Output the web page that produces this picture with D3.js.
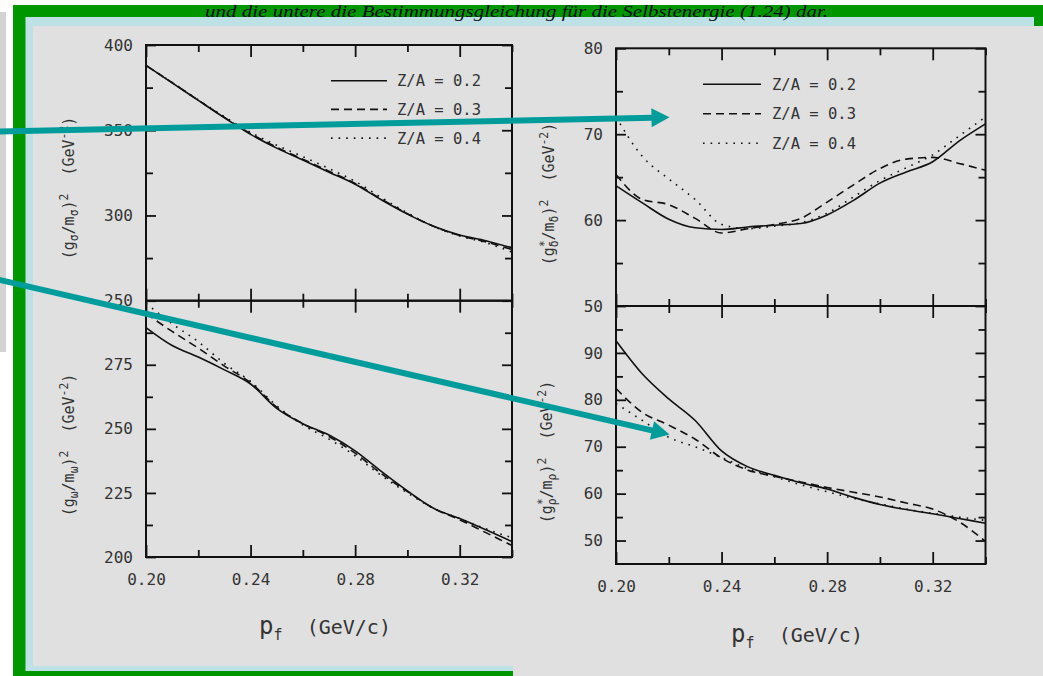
<!DOCTYPE html>
<html>
<head>
<meta charset="utf-8">
<script src="https://cdn.jsdelivr.net/npm/d3@7"></script>
<style>
  html, body { margin: 0; padding: 0; background: #fff; }
  svg { display: block; }
  text { white-space: pre; }
</style>
</head>
<body>
<svg id="fig" width="1043" height="676"></svg>
<script>
// Fermi momentum grid (GeV/c)
const pf = [0.20, 0.21, 0.22, 0.23, 0.24, 0.25, 0.26, 0.27, 0.28, 0.29, 0.30, 0.31, 0.32, 0.33, 0.34];

// (g_sigma/m_sigma)^2 in GeV^-2
const sigmaZA02 = [388.0, 377.8, 367.5, 357.3, 347.6, 339.5, 332.5, 325.4, 318.3, 309.2, 300.8, 293.7, 288.5, 285.2, 281.0];
const sigmaZA03 = [388.0, 377.9, 367.6, 357.5, 348.0, 340.0, 333.0, 326.0, 318.8, 309.6, 301.0, 293.6, 288.2, 284.5, 280.0];
const sigmaZA04 = [388.0, 378.0, 367.8, 357.9, 348.8, 341.2, 334.5, 327.5, 320.0, 310.5, 301.5, 293.5, 288.0, 284.0, 278.5];

// (g_omega/m_omega)^2 in GeV^-2
const omegaZA02 = [289.5, 282.5, 278.0, 273.0, 267.5, 258.0, 252.0, 247.6, 241.4, 233.4, 225.8, 219.0, 215.0, 210.6, 206.0];
const omegaZA03 = [295.0, 288.0, 281.5, 274.5, 268.0, 258.5, 252.0, 247.0, 240.5, 232.5, 225.5, 219.0, 214.5, 209.5, 204.5];
const omegaZA04 = [299.0, 291.0, 284.0, 275.5, 268.5, 259.0, 251.5, 246.0, 239.5, 231.8, 225.0, 219.0, 215.0, 211.0, 207.5];

// (g*_delta/m_delta)^2 in GeV^-2
const deltaZA02 = [64.0, 62.0, 60.1, 59.1, 58.9, 59.2, 59.4, 59.6, 60.6, 62.3, 64.3, 65.6, 66.8, 69.2, 71.2];
const deltaZA03 = [65.3, 62.4, 61.8, 60.2, 58.5, 59.0, 59.5, 60.2, 62.1, 64.1, 66.0, 67.1, 67.3, 66.6, 65.8];
const deltaZA04 = [72.0, 67.4, 64.8, 62.4, 59.5, 59.0, 59.3, 59.7, 60.8, 62.7, 64.6, 66.1, 67.6, 69.8, 72.0];

// (g*_rho/m_rho)^2 in GeV^-2
const rhoZA02 = [92.6, 85.5, 80.2, 75.6, 69.1, 65.7, 63.9, 62.3, 61.0, 59.2, 57.7, 56.6, 55.7, 54.7, 53.7];
const rhoZA03 = [82.4, 77.3, 74.6, 71.6, 67.6, 65.0, 63.7, 62.5, 61.3, 60.3, 59.3, 58.0, 56.7, 54.0, 49.8];
const rhoZA04 = [79.2, 75.6, 72.0, 70.0, 67.7, 65.3, 63.6, 61.9, 60.4, 59.0, 57.8, 56.7, 55.8, 55.0, 54.3];

// Legend entries and axis ticks
const seriesLabels = ["Z/A = 0.2", "Z/A = 0.3", "Z/A = 0.4"];
const xTickValues = [0.20, 0.22, 0.24, 0.26, 0.28, 0.30, 0.32, 0.34];
const xTickLabels = ["0.20", "0.24", "0.28", "0.32"];
const sigmaTicks = [250, 275, 300, 325, 350, 375, 400];
const sigmaTickLabels = ["250", "300", "350", "400"];
const omegaTicks = [200, 212.5, 225, 237.5, 250, 262.5, 275, 287.5];
const omegaTickLabels = ["200", "225", "250", "275"];
const deltaTicks = [50, 55, 60, 65, 70, 75, 80];
const deltaTickLabels = ["50", "60", "70", "80"];
const rhoTicks = [50, 55, 60, 65, 70, 75, 80, 85, 90, 95];
const rhoTickLabels = ["50", "60", "70", "80", "90"];

const caption = "und die untere die Bestimmungsgleichung für die Selbstenergie (1.24) dar.";

const svg = d3.select("#fig");
const MONO = "'DejaVu Sans Mono', 'Liberation Mono', monospace";

// ---------- page frame ----------
svg.append("rect").attr("x", 0).attr("y", 12).attr("width", 6).attr("height", 340).attr("fill", "#d3d3d3");
svg.append("rect").attr("x", 13).attr("y", 5).attr("width", 1030).attr("height", 671).attr("fill", "#009600");
svg.append("rect").attr("x", 25.5).attr("y", 17).attr("width", 1008.5).attr("height", 654).attr("fill", "#bde1e5");
svg.append("rect").attr("x", 33).attr("y", 26).attr("width", 481).attr("height", 640).attr("fill", "#e0e0e0");
svg.append("rect").attr("x", 513).attr("y", 26).attr("width", 530).attr("height", 650).attr("fill", "#e0e0e0");

svg.append("text")
  .attr("x", 205).attr("y", 17)
  .attr("textLength", 623).attr("lengthAdjust", "spacingAndGlyphs")
  .attr("font-family", "'Liberation Serif', 'DejaVu Serif', serif")
  .attr("font-style", "italic").attr("font-size", 17)
  .attr("fill", "#101020")
  .text(caption);

// ---------- helpers ----------
const dashStyles = [null, "8,5", "1.6,6"];

function richText(sel, parts, size) {
  // parts: [text, kind, dx]; kind is n (normal), sub or sup
  let shift = 0;
  parts.forEach(([t, kind, dx]) => {
    const target = kind === "sub" ? 4 : kind === "sup" ? -6 : 0;
    const ts = sel.append("tspan")
      .attr("dy", target - shift)
      .attr("font-size", kind === "n" ? size : size * 0.76)
      .text(t);
    if (dx) ts.attr("dx", dx);
    shift = target;
  });
}

function drawPanel(cfg) {
  const g = svg.append("g");
  const x = d3.scaleLinear().domain([0.20, 0.34]).range([cfg.x0, cfg.x1]);
  const y = d3.scaleLinear().domain(cfg.domain).range([cfg.y1, cfg.y0]);
  const fmtX = d => d.toFixed(2);
  const isXMajor = d => xTickLabels.includes(fmtX(d));
  const isYMajor = d => cfg.yLabels.includes(String(d));

  // curves
  const line = d3.line().x((d, i) => x(pf[i])).y(d => y(d)).curve(d3.curveMonotoneX);
  cfg.series.forEach((vals, k) => {
    g.append("path").datum(vals)
      .attr("d", line)
      .attr("fill", "none")
      .attr("stroke", "#111")
      .attr("stroke-width", 1.6)
      .attr("stroke-dasharray", dashStyles[k]);
  });

  // left axis with labels
  const left = g.append("g").attr("transform", `translate(${cfg.x0},0)`)
    .call(d3.axisLeft(y).tickValues(cfg.yTicks).tickSizeOuter(0).tickSizeInner(-10).tickPadding(13)
      .tickFormat(d => isYMajor(d) ? String(d) : ""));
  left.selectAll(".tick line").attr("x2", d => isYMajor(d) ? 10 : 7);

  // right axis
  const right = g.append("g").attr("transform", `translate(${cfg.x1},0)`)
    .call(d3.axisRight(y).tickValues(cfg.yTicks).tickSizeOuter(0).tickSizeInner(-10).tickFormat(""));
  right.selectAll(".tick line").attr("x2", d => isYMajor(d) ? -10 : -7);

  // top axis
  const top = g.append("g").attr("transform", `translate(0,${cfg.y0})`)
    .call(d3.axisTop(x).tickValues(xTickValues).tickSizeOuter(0).tickSizeInner(-12).tickFormat(""));
  top.selectAll(".tick line").attr("y2", d => isXMajor(d) ? 12 : 7);

  // bottom axis
  const bottom = g.append("g").attr("transform", `translate(0,${cfg.y1})`)
    .call(d3.axisBottom(x).tickValues(xTickValues).tickSizeOuter(0).tickSizeInner(-12).tickPadding(17)
      .tickFormat(d => cfg.xLabels && isXMajor(d) ? fmtX(d) : ""));
  bottom.selectAll(".tick line").attr("y2", d => isXMajor(d) ? -12 : -7);

  [left, right, top, bottom].forEach(a => {
    a.select(".domain").remove();
    a.selectAll(".tick line").attr("stroke", "#111").attr("stroke-width", 1.8);
    a.selectAll(".tick text").attr("font-family", MONO).attr("font-size", 16).attr("fill", "#333");
  });

  g.append("rect")
    .attr("x", cfg.x0).attr("y", cfg.y0)
    .attr("width", cfg.x1 - cfg.x0).attr("height", cfg.y1 - cfg.y0)
    .attr("fill", "none").attr("stroke", "#111").attr("stroke-width", 2);

  // rotated y title
  const t = g.append("text")
    .attr("transform", `translate(${cfg.titleX},${cfg.titleY}) rotate(-90)`)
    .attr("text-anchor", "middle")
    .attr("font-family", MONO).attr("fill", "#333");
  richText(t, cfg.title, 15);

  // legend
  if (cfg.legend) {
    const L = cfg.legend;
    seriesLabels.forEach((lab, k) => {
      const yy = L.y + k * L.dy;
      g.append("line")
        .attr("x1", L.x0).attr("x2", L.x1).attr("y1", yy).attr("y2", yy)
        .attr("stroke", "#111").attr("stroke-width", 1.6)
        .attr("stroke-dasharray", dashStyles[k]);
      g.append("text")
        .attr("x", L.tx).attr("y", yy).attr("dy", "0.35em")
        .attr("font-family", MONO).attr("font-size", 15.5).attr("fill", "#333")
        .text(lab);
    });
  }
}

// x-axis title  p_f (GeV/c)
function xTitle(cx, baseY) {
  const t = svg.append("text")
    .attr("x", cx).attr("y", baseY).attr("text-anchor", "middle")
    .attr("font-family", MONO).attr("fill", "#333");
  t.append("tspan").attr("font-size", 24).text("p");
  t.append("tspan").attr("font-size", 15).attr("dy", 6).text("f");
  t.append("tspan").attr("font-size", 20).attr("dy", -6).text("  (GeV/c)");
}

// ---------- panels ----------
const sigmaTitle = [["(g", "n"], ["σ", "sub"], ["/m", "n"], ["σ", "sub"], [")", "n"], ["2", "sup"], ["  (GeV", "n"], ["-2", "sup"], [")", "n"]];
const omegaTitle = [["(g", "n"], ["ω", "sub"], ["/m", "n"], ["ω", "sub"], [")", "n"], ["2", "sup"], ["  (GeV", "n"], ["-2", "sup"], [")", "n"]];
const deltaTitle = [["(g", "n"], ["*", "sup"], ["δ", "sub", -7], ["/m", "n"], ["δ", "sub"], [")", "n"], ["2", "sup"], ["  (GeV", "n"], ["-2", "sup"], [")", "n"]];
const rhoTitle = [["(g", "n"], ["*", "sup"], ["ρ", "sub", -7], ["/m", "n"], ["ρ", "sub"], [")", "n"], ["2", "sup"], ["  (GeV", "n"], ["-2", "sup"], [")", "n"]];

drawPanel({
  x0: 146, x1: 512, y0: 45, y1: 300.7, domain: [250, 400],
  yTicks: sigmaTicks, yLabels: sigmaTickLabels, xLabels: false,
  series: [sigmaZA02, sigmaZA03, sigmaZA04], title: sigmaTitle, titleX: 74, titleY: 188,
  legend: { x0: 331, x1: 387, tx: 397, y: 80.7, dy: 28.7 }
});
drawPanel({
  x0: 146, x1: 512, y0: 300.7, y1: 557, domain: [200, 300],
  yTicks: omegaTicks, yLabels: omegaTickLabels, xLabels: true,
  series: [omegaZA02, omegaZA03, omegaZA04], title: omegaTitle, titleX: 74, titleY: 445
});
drawPanel({
  x0: 616, x1: 985.5, y0: 48.3, y1: 306, domain: [50, 80],
  yTicks: deltaTicks, yLabels: deltaTickLabels, xLabels: false,
  series: [deltaZA02, deltaZA03, deltaZA04], title: deltaTitle, titleX: 554, titleY: 194,
  legend: { x0: 703, x1: 761, tx: 772, y: 84.3, dy: 29.5 }
});
drawPanel({
  x0: 616, x1: 985.5, y0: 306, y1: 564, domain: [45, 100],
  yTicks: rhoTicks, yLabels: rhoTickLabels, xLabels: true,
  series: [rhoZA02, rhoZA03, rhoZA04], title: rhoTitle, titleX: 552, titleY: 452
});

xTitle(325, 634);
xTitle(797, 642);

// ---------- teal pointer arrows ----------
function arrow(x0, y0, x1, y1) {
  const dx = x1 - x0, dy = y1 - y0, len = Math.hypot(dx, dy);
  const ux = dx / len, uy = dy / len, head = 18, half = 9.5;
  const bx = x1 - ux * head, by = y1 - uy * head;
  svg.append("line")
    .attr("x1", x0).attr("y1", y0).attr("x2", bx + ux).attr("y2", by + uy)
    .attr("stroke", "#009c9c").attr("stroke-width", 6);
  svg.append("polygon")
    .attr("points", [[x1, y1], [bx - uy * half, by + ux * half], [bx + uy * half, by - ux * half]].map(p => p.join(",")).join(" "))
    .attr("fill", "#009c9c");
}
arrow(-5, 131.6, 669.5, 117.3);
arrow(-5, 278.8, 669.5, 434.5);
</script>
</body>
</html>
